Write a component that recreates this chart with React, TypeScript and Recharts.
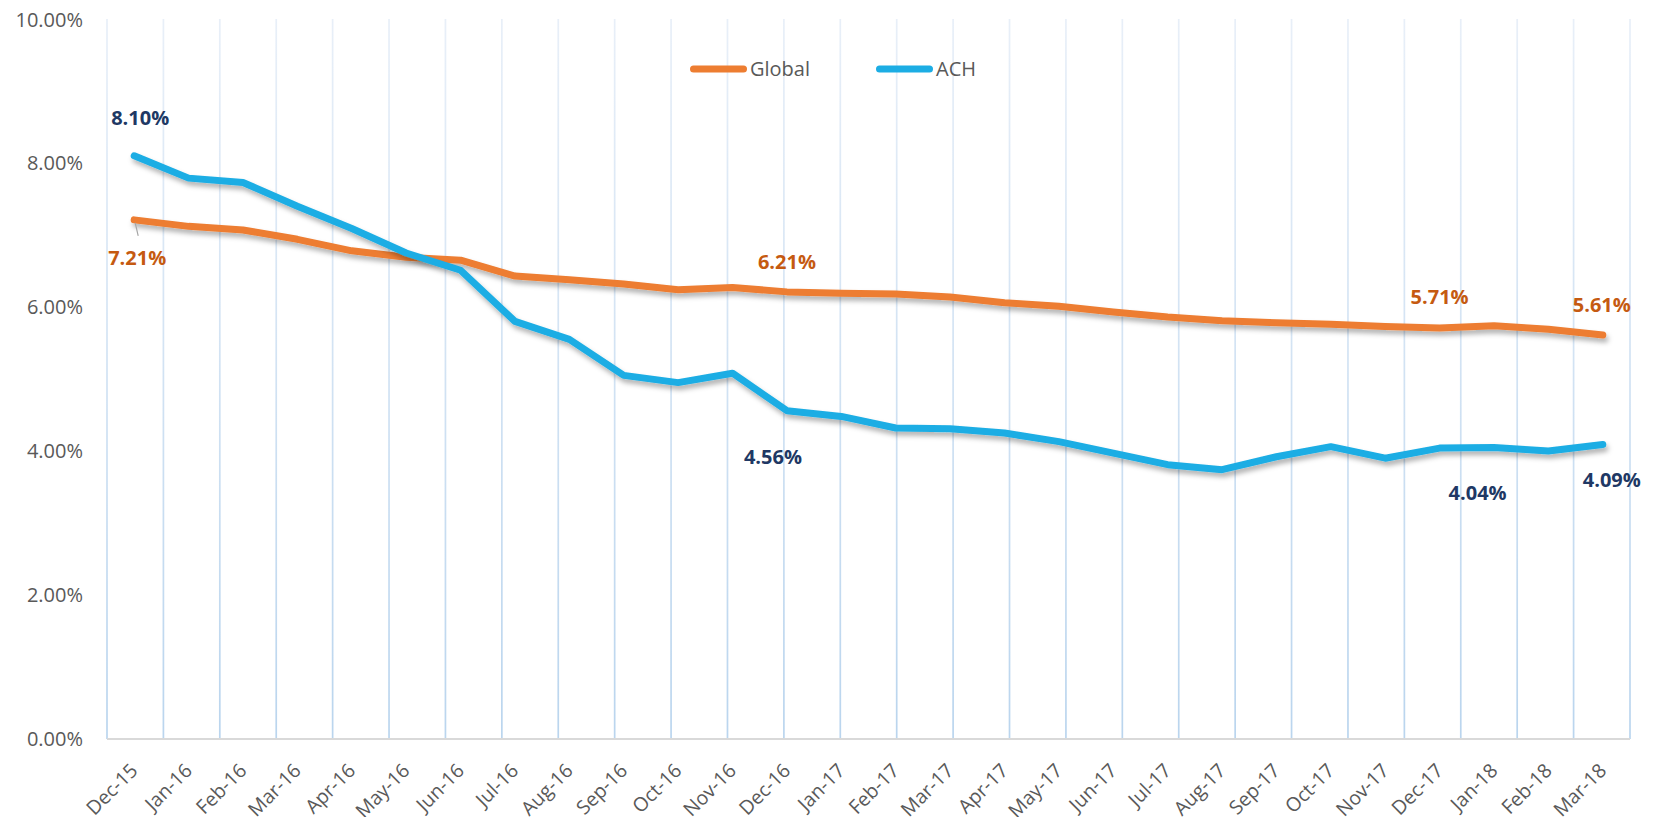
import React from 'react';
import { LineChart, Line, XAxis, YAxis, CartesianGrid, Legend, LabelList } from 'recharts';

const MONTHS = ['Dec-15', 'Jan-16', 'Feb-16', 'Mar-16', 'Apr-16', 'May-16', 'Jun-16', 'Jul-16', 'Aug-16', 'Sep-16', 'Oct-16', 'Nov-16', 'Dec-16', 'Jan-17', 'Feb-17', 'Mar-17', 'Apr-17', 'May-17', 'Jun-17', 'Jul-17', 'Aug-17', 'Sep-17', 'Oct-17', 'Nov-17', 'Dec-17', 'Jan-18', 'Feb-18', 'Mar-18'];
const GLOBAL = [7.21, 7.12, 7.07, 6.94, 6.78, 6.69, 6.65, 6.43, 6.38, 6.32, 6.24, 6.27, 6.21, 6.19, 6.18, 6.14, 6.06, 6.01, 5.93, 5.86, 5.81, 5.78, 5.76, 5.73, 5.71, 5.74, 5.69, 5.61];
const ACH = [8.10, 7.79, 7.73, 7.40, 7.09, 6.75, 6.51, 5.80, 5.55, 5.05, 4.95, 5.08, 4.56, 4.48, 4.32, 4.31, 4.25, 4.13, 3.97, 3.81, 3.74, 3.92, 4.06, 3.90, 4.04, 4.05, 4.00, 4.09];
const Y_TICKS = [0, 2, 4, 6, 8, 10];
const SERIES = ['Global', 'ACH'];
const GLOBAL_LABELLED = [0, 12, 24, 27];
const ACH_LABELLED = [0, 12, 24, 27];

const COLORS: Record<string, string> = { Global: '#ED7D31', ACH: '#1CADE4' };
const LABEL_COLORS: Record<string, string> = { Global: '#C55A11', ACH: '#203864' };
const FONT = "'Open Sans', sans-serif";
const TEXT_GRAY = '#595959';

const data = MONTHS.map((m, i) => ({ month: m, Global: GLOBAL[i], ACH: ACH[i] }));
const catPos = (d: any) => MONTHS.indexOf(d.month) + 0.5;

// label placement (style only): offsets from point
const GLOBAL_PLACE: Record<number, [number, number]> = { 0: [3, 38], 12: [0, -30], 24: [0, -31], 27: [-1, -30] };
const ACH_PLACE: Record<number, [number, number]> = { 0: [6, -38], 12: [-14, 46], 24: [38, 45], 27: [9, 35] };

const makeLabel = (series: string, labelled: number[], place: Record<number, [number, number]>) => (props: any) => {
  const { x, y, index, value } = props;
  if (!labelled.includes(index)) return null;
  const [dx, dy] = place[index];
  return (
    <g key={`${series}-${index}`}>
      {series === 'Global' && index === 0 ? (
        <line x1={x + 1} y1={y + 3} x2={x + 4} y2={y + 16} stroke="#A6A6A6" strokeWidth={1.2} />
      ) : null}
      <text
        x={x + dx}
        y={y + dy + 7}
        textAnchor="middle"
        fontFamily={FONT}
        fontSize={20}
        fontWeight={700}
        fill={LABEL_COLORS[series]}
      >
        {Number(value).toFixed(2) + '%'}
      </text>
    </g>
  );
};

const XTick = (props: any) => {
  const { x, y, payload } = props;
  return (
    <g transform={`translate(${x - 5},${y})`}>
      <text textAnchor="end" transform="rotate(-45)" dy="0.71em" fontFamily={FONT} fontSize={19.5} fill={TEXT_GRAY}>
        {MONTHS[Math.floor(payload.value)]}
      </text>
    </g>
  );
};

const LegendContent = () => (
  <div style={{ display: 'flex', alignItems: 'center', height: 28, fontFamily: FONT, fontSize: 20, color: TEXT_GRAY }}>
    {SERIES.map((s, i) => (
      <div key={s} style={{ display: 'flex', alignItems: 'center', marginRight: i === 0 ? 66 : 0 }}>
        <svg width={57} height={10} style={{ display: 'block' }}>
          <line x1={3.5} y1={5} x2={53.5} y2={5} stroke={COLORS[s]} strokeWidth={7} strokeLinecap="round" />
        </svg>
        <span style={{ marginLeft: 3, lineHeight: '28px' }}>{s}</span>
      </div>
    ))}
  </div>
);

export default function App() {
  return (
    <div style={{ width: 1645, height: 809, position: 'relative' }}>
      <LineChart width={1645} height={809} data={data} margin={{ top: 11, right: 23, left: 0, bottom: 0 }}>
        <defs>
          <filter id="lineShadow" filterUnits="userSpaceOnUse" x={0} y={0} width={1645} height={809}>
            <feDropShadow dx={2} dy={4} stdDeviation={2.5} floodColor="#000" floodOpacity={0.3} />
          </filter>
          <linearGradient id="gridGrad" gradientUnits="userSpaceOnUse" x1={0} y1={11} x2={0} y2={731}>
            <stop offset="0" stopColor="#E8EFF8" />
            <stop offset="1" stopColor="#BAD5EE" />
          </linearGradient>
        </defs>
        <XAxis
          xAxisId="grid"
          type="number"
          domain={[0, MONTHS.length]}
          ticks={MONTHS.map((_, i) => i).concat(MONTHS.length)}
          hide
        />
        <CartesianGrid xAxisId="grid" horizontal={false} vertical stroke="url(#gridGrad)" strokeWidth={1.7} />
        <XAxis
          dataKey={catPos}
          type="number"
          domain={[0, MONTHS.length]}
          ticks={MONTHS.map((_, i) => i + 0.5)}
          interval={0}
          height={78}
          tickLine={false}
          tickSize={6}
          tickMargin={17}
          axisLine={{ stroke: '#D9D9D9', strokeWidth: 2 }}
          tick={<XTick />}
        />
        <YAxis
          domain={[0, 10]}
          ticks={Y_TICKS}
          width={99}
          axisLine={false}
          tickLine={false}
          tickMargin={18}
          tickFormatter={(v: number) => v.toFixed(2) + '%'}
          tick={{ fontFamily: FONT, fontSize: 20, fill: TEXT_GRAY }}
        />
        <Legend
          verticalAlign="middle"
          align="center"
          layout="horizontal"
          wrapperStyle={{ top: 47, left: 682, width: 320, height: 28 }}
          content={<LegendContent />}
        />
        <Line
          dataKey="Global"
          stroke={COLORS.Global}
          strokeWidth={7}
          strokeLinecap="round"
          strokeLinejoin="round"
          dot={false}
          activeDot={false}
          isAnimationActive={false}
          filter="url(#lineShadow)"
        >
          <LabelList dataKey="Global" content={makeLabel('Global', GLOBAL_LABELLED, GLOBAL_PLACE)} />
        </Line>
        <Line
          dataKey="ACH"
          stroke={COLORS.ACH}
          strokeWidth={7}
          strokeLinecap="round"
          strokeLinejoin="round"
          dot={false}
          activeDot={false}
          isAnimationActive={false}
          filter="url(#lineShadow)"
        >
          <LabelList dataKey="ACH" content={makeLabel('ACH', ACH_LABELLED, ACH_PLACE)} />
        </Line>
      </LineChart>
    </div>
  );
}
